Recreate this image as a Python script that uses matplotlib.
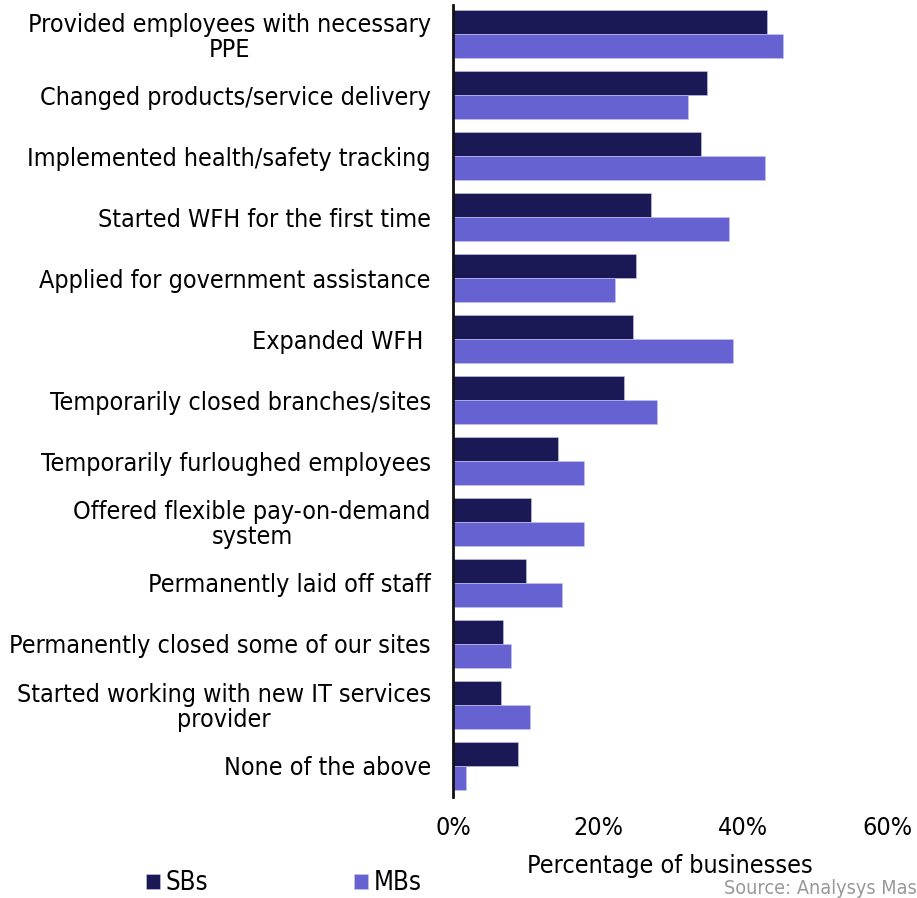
import matplotlib
matplotlib.use("Agg")
import matplotlib.pyplot as plt
import numpy as np

plt.rcParams['font.family'] = ['DejaVu Sans']
plt.rcParams['font.stretch'] = 'condensed'

categories = [
    "Provided employees with necessary\nPPE",
    "Changed products/service delivery",
    "Implemented health/safety tracking",
    "Started WFH for the first time",
    "Applied for government assistance",
    "Expanded WFH ",
    "Temporarily closed branches/sites",
    "Temporarily furloughed employees",
    "Offered flexible pay-on-demand\nsystem",
    "Permanently laid off staff",
    "Permanently closed some of our sites",
    "Started working with new IT services\nprovider",
    "None of the above",
]
sb_values = [43.4, 35.1, 34.3, 27.4, 25.3, 24.9, 23.6, 14.5, 10.7, 10.1, 6.9, 6.6, 9.0]
mb_values = [45.6, 32.5, 43.1, 38.1, 22.4, 38.7, 28.1, 18.1, 18.1, 15.0, 8.0, 10.6, 1.8]
x_ticks = [0, 20, 40, 60]

SB_COLOR = '#1a1855'
MB_COLOR = '#6762d1'

fig = plt.figure(figsize=(9.17, 8.98), dpi=100)
ax = fig.add_axes([0.494, 0.1125, 0.474, 0.882])

y = np.arange(len(categories))
h = 0.39
ax.barh(y - h / 2, sb_values, height=h, color=SB_COLOR, edgecolor='#c8c6ee', linewidth=0.4, label='SBs')
ax.barh(y + h / 2, mb_values, height=h, color=MB_COLOR, edgecolor='#c8c6ee', linewidth=0.4, label='MBs')

ax.set_ylim(12.51, -0.48)
ax.set_xlim(0, 60)
ax.set_yticks(y)
ax.set_yticklabels(categories, fontsize=18, ha='right', multialignment='center',
                   linespacing=1.05)
ax.set_xticks(x_ticks)
ax.set_xticklabels([f"{t}%" for t in x_ticks], fontsize=18)
ax.tick_params(axis='both', length=0)
ax.tick_params(axis='y', pad=16)
ax.tick_params(axis='x', pad=14)

for side in ['top', 'right', 'bottom']:
    ax.spines[side].set_visible(False)
ax.spines['left'].set_linewidth(2)
ax.spines['left'].set_color('#111111')

ax.set_xlabel("Percentage of businesses", fontsize=18, labelpad=10)

fig.legend(loc='lower left', bbox_to_anchor=(0.134, -0.024), ncol=2, frameon=False,
           fontsize=18.5, handlelength=0.55, handleheight=0.55, handletextpad=0.2,
           columnspacing=5.7)

fig.text(0.79, 0.0, "Source: Analysys Mas", fontsize=14.2, color='#999999',
         ha='left', va='bottom')

plt.savefig("out.png", dpi=100)
